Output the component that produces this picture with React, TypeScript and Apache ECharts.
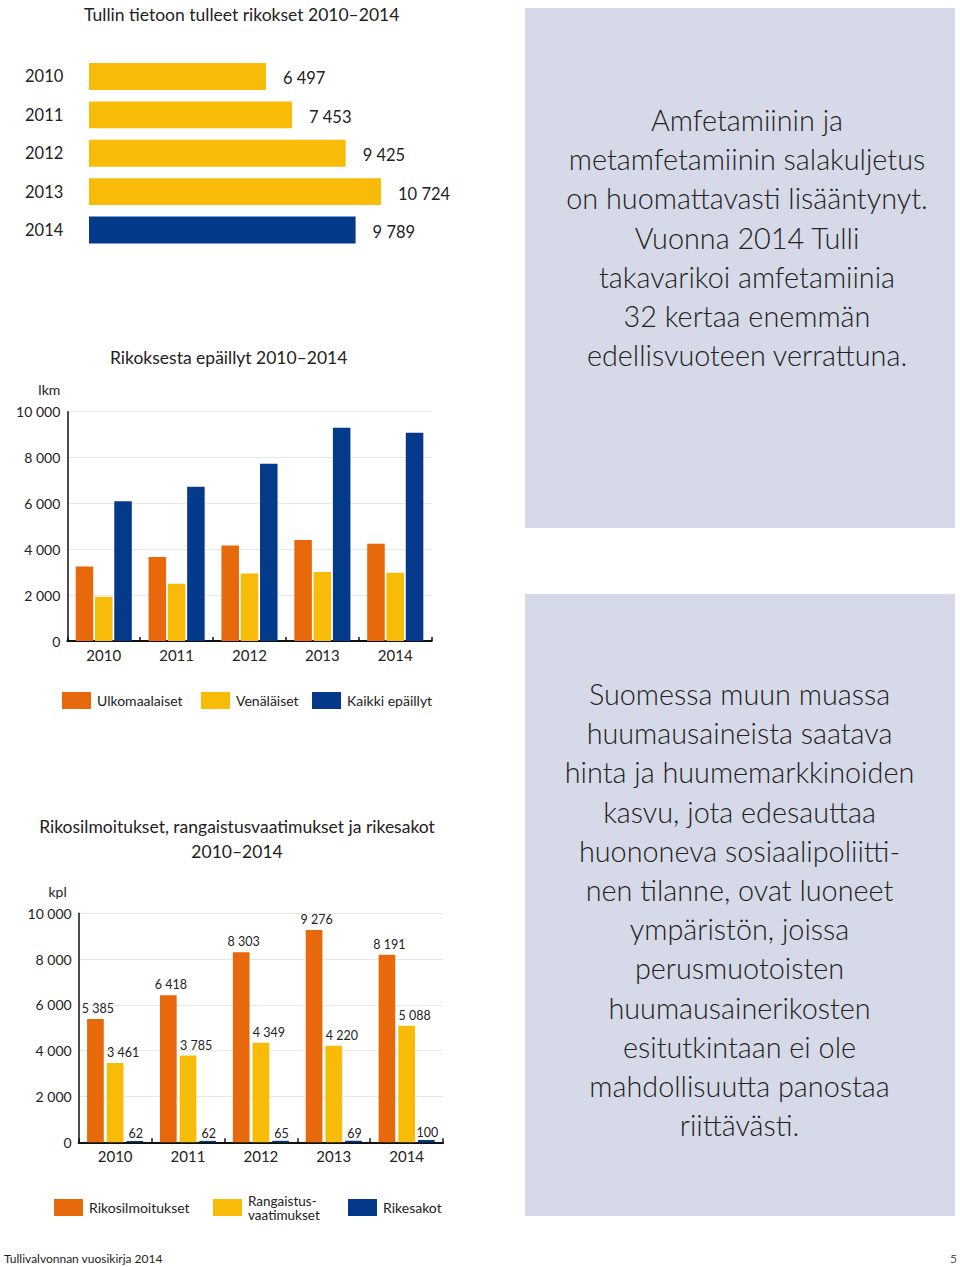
import React, { useEffect, useRef } from "react";
import * as echarts from "echarts";

const years = ["2010", "2011", "2012", "2013", "2014"];
const crimeTotals = [6497, 7453, 9425, 10724, 9789];
const foreigners = [3250, 3660, 4170, 4400, 4240];
const russians = [1930, 2500, 2940, 3010, 2980];
const allSuspects = [6100, 6730, 7730, 9300, 9080];
const reports = [5385, 6418, 8303, 9276, 8191];
const prosecutions = [3461, 3785, 4349, 4220, 5088];
const fines = [62, 62, 65, 69, 100];

const box1Text = [
  "Amfetamiinin ja",
  "metamfetamiinin salakuljetus",
  "on huomattavasti lisääntynyt.",
  "Vuonna 2014 Tulli",
  "takavarikoi amfetamiinia",
  "32 kertaa enemmän",
  "edellisvuoteen verrattuna.",
];
const box2Text = [
  "Suomessa muun muassa",
  "huumausaineista saatava",
  "hinta ja huumemarkkinoiden",
  "kasvu, jota edesauttaa",
  "huononeva sosiaalipoliitti-",
  "nen tilanne, ovat luoneet",
  "ympäristön, joissa",
  "perusmuotoisten",
  "huumausainerikosten",
  "esitutkintaan ei ole",
  "mahdollisuutta panostaa",
  "riittävästi.",
];

const ORANGE = "#e8690b";
const YELLOW = "#f7bb08";
const BLUE = "#053a8b";
const BOXBG = "#d6d9e7";
const TXT = "#222222";
const FONT = "Lato";

const fmt = (v: number) => String(v).replace(/\B(?=(\d{3})+(?!\d))/g, " ");

export default function App() {
  const ref = useRef<HTMLDivElement>(null);
  useEffect(() => {
    if (!ref.current) return;
    const chart = echarts.init(ref.current, null, { renderer: "svg" });
    const catAxis = (gi: number) => ({
      type: "category",
      gridIndex: gi,
      data: years,
      axisLine: { lineStyle: { color: "#111", width: 2 } },
      axisTick: { show: true, inside: true, length: 4, lineStyle: { color: "#111", width: 1.5 } },
      axisLabel: { color: TXT, fontSize: 15, margin: 6, fontFamily: FONT },
    });
    const valAxis = (gi: number, name: string, pad: number) => ({
      type: "value",
      gridIndex: gi,
      min: 0,
      max: 10000,
      interval: 2000,
      name,
      nameLocation: "end",
      nameGap: 15,
      nameTextStyle: { color: TXT, fontSize: 14, align: "right", padding: [0, pad, 0, 0], fontFamily: FONT },
      axisLine: { show: true, lineStyle: { color: "#111", width: 1.5 } },
      axisTick: { show: false },
      axisLabel: { color: TXT, fontSize: 14, margin: 7, formatter: (v: number) => fmt(v), fontFamily: FONT },
      splitLine: { lineStyle: { color: "#e8e8e8", width: 1 } },
    });
    const bar = (name: string, data: number[], color: string, xi: number, gap: string, label?: any) => ({
      name,
      type: "bar",
      xAxisIndex: xi,
      yAxisIndex: xi,
      data,
      barGap: gap,
      barCategoryGap: "23%",
      itemStyle: { color },
      label: label || { show: false },
    });
    const valLabel = (offset: number[]) => ({
      show: true,
      position: "top",
      distance: 4,
      offset,
      color: TXT,
      fontSize: 12.5,
      fontFamily: FONT,
      formatter: (p: any) => fmt(p.value),
    });
    const legendItem = (name: string, left: number, top: number, formatter?: string, fs = 14) => ({
      data: [name],
      left,
      top,
      padding: 0,
      icon: "rect",
      itemWidth: 29,
      itemHeight: 17,
      selectedMode: false,
      formatter: formatter || "{name}",
      textStyle: { color: TXT, fontSize: fs, fontFamily: FONT, lineHeight: 14, padding: [0, 0, 0, 1] },
    });
    const boxText = (lines: string[], cx: number, top: number) => ({
      type: "text",
      x: cx,
      y: top,
      style: {
        text: lines.join("\n"),
        fill: TXT,
        font: `300 28.8px ${FONT}`,
        align: "center",
        verticalAlign: "top",
        lineHeight: 39.2,
      },
    });
    const titleStyle = { color: TXT, fontSize: 17.5, fontWeight: "normal", fontFamily: FONT };
    chart.setOption({
      animation: false,
      textStyle: { fontFamily: FONT },
      title: [
        { text: "Tullin tietoon tulleet rikokset 2010–2014", left: 84, top: 5, padding: 0, textStyle: titleStyle },
        { text: "Rikoksesta epäillyt 2010–2014", left: 110, top: 348, padding: 0, textStyle: titleStyle },
        { text: "Rikosilmoitukset, rangaistusvaatimukset ja rikesakot\n2010–2014", left: 237, textAlign: "center", top: 814, padding: 0, textStyle: { ...titleStyle, lineHeight: 25 } },
      ],
      legend: [
        legendItem("Ulkomaalaiset", 62, 692),
        legendItem("Venäläiset", 201, 692),
        legendItem("Kaikki epäillyt", 312, 692),
        legendItem("Rikosilmoitukset", 54, 1199),
        legendItem("Rangaistusvaatimukset", 213, 1193.5, "Rangaistus-\nvaatimukset", 13.5),
        legendItem("Rikesakot", 348, 1199),
      ],
      grid: [
        { left: 89, top: 57.3, width: 326.8, height: 191.9 },
        { left: 67.3, top: 411.7, width: 364.4, height: 229.3 },
        { left: 78.7, top: 913.3, width: 364.4, height: 229 },
      ],
      xAxis: [
        { type: "value", gridIndex: 0, min: 0, max: 12000, show: false },
        catAxis(1),
        catAxis(2),
      ],
      yAxis: [
        {
          type: "category",
          gridIndex: 0,
          data: years,
          inverse: true,
          axisLine: { show: false },
          axisTick: { show: false },
          axisLabel: { color: TXT, fontSize: 16.5, align: "left", margin: 64, fontFamily: FONT },
        },
        valAxis(1, "lkm", 7),
        valAxis(2, "kpl", 12),
      ],
      series: [
        {
          name: "Tullin tietoon tulleet rikokset",
          type: "bar",
          xAxisIndex: 0,
          yAxisIndex: 0,
          data: crimeTotals,
          barCategoryGap: "30%",
          itemStyle: { color: (p: any) => (p.dataIndex === years.length - 1 ? BLUE : YELLOW) },
          label: {
            show: true,
            position: "right",
            distance: 17,
            offset: [0, 2],
            color: TXT,
            fontSize: 16.5,
            fontFamily: FONT,
            formatter: (p: any) => fmt(p.value),
          },
        },
        bar("Ulkomaalaiset", foreigners, ORANGE, 1, "10%"),
        bar("Venäläiset", russians, YELLOW, 1, "10%"),
        bar("Kaikki epäillyt", allSuspects, BLUE, 1, "10%"),
        bar("Rikosilmoitukset", reports, ORANGE, 2, "18%", valLabel([2.5, 0])),
        bar("Rangaistusvaatimukset", prosecutions, YELLOW, 2, "18%", valLabel([8, 0])),
        bar("Rikesakot", fines, BLUE, 2, "18%", valLabel([1, 3])),
      ],
      graphic: [
        { type: "rect", shape: { x: 525, y: 8, width: 430, height: 520 }, style: { fill: BOXBG }, z: -1 },
        { type: "rect", shape: { x: 525, y: 594, width: 430, height: 622 }, style: { fill: BOXBG }, z: -1 },
        boxText(box1Text, 747, 100.4),
        boxText(box2Text, 739.5, 674.4),
        { type: "text", x: 4, y: 1258, style: { text: "Tullivalvonnan vuosikirja 2014", fill: TXT, font: `12px ${FONT}`, verticalAlign: "middle" } },
        { type: "text", x: 957, y: 1258, style: { text: "5", fill: "#555", font: `12px ${FONT}`, align: "right", verticalAlign: "middle" } },
      ],
    });
    return () => chart.dispose();
  }, []);
  return <div ref={ref} style={{ position: "absolute", left: 0, top: 0, width: 960, height: 1267, background: "#fff" }} />;
}
